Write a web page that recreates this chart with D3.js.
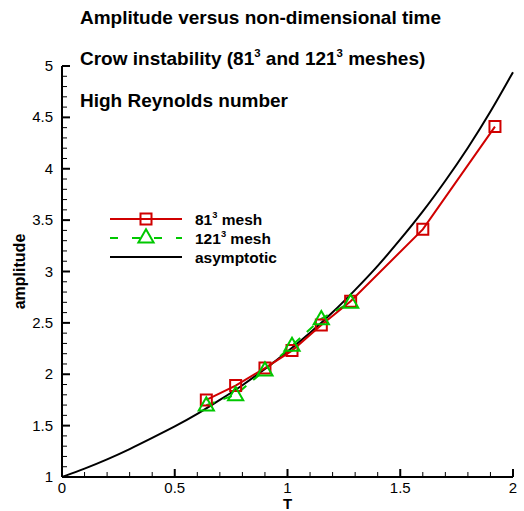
<!DOCTYPE html>
<html><head><meta charset="utf-8">
<script src="https://cdn.jsdelivr.net/npm/d3@7"></script>
<style>body{margin:0;background:#fff}svg{display:block}text{font-family:"Liberation Sans",Arial,sans-serif}</style>
</head><body>
<script>
const T = [0.64, 0.77, 0.90, 1.02, 1.15, 1.28, 1.60, 1.92];
const mesh81 = [1.75, 1.89, 2.06, 2.23, 2.48, 2.71, 3.41, 4.41];
const T121 = [0.64, 0.77, 0.90, 1.02, 1.15, 1.28];
const mesh121 = [1.70, 1.80, 2.04, 2.28, 2.54, 2.70];
const asymT = [0,0.1,0.2,0.3,0.4,0.5,0.6,0.7,0.8,0.9,1.0,1.1,1.2,1.3,1.4,1.5,1.6,1.7,1.8,1.9,2.0];
const asymA = [1.00,1.08,1.17,1.27,1.38,1.49,1.61,1.75,1.89,2.05,2.22,2.40,2.60,2.82,3.05,3.31,3.58,3.88,4.20,4.55,4.94];
const xTicks = [0, 0.5, 1, 1.5, 2];
const yTicks = [1, 1.5, 2, 2.5, 3, 3.5, 4, 4.5, 5];
const titles = ["Amplitude versus non-dimensional time", "Crow instability (81|3| and 121|3| meshes)", "High Reynolds number"];
const legendLabels = ["81|3| mesh", "121|3| mesh", "asymptotic"];

const W = 524, H = 511;
const svg = d3.select("body").append("svg").attr("width", W).attr("height", H);
const x = d3.scaleLinear().domain([0, 2]).range([62, 513]);
const y = d3.scaleLinear().domain([1, 5]).range([477, 66]);
const RED = "#d00000", GREEN = "#00c800";

function richText(sel, str, up) {
  str.split("|").forEach((p, i) => {
    if (i % 2 === 1) sel.append("tspan").attr("dy", -up).attr("font-size", "0.6em").text(p);
    else { const t = sel.append("tspan").text(p); if (i > 0) t.attr("dy", up); }
  });
}

// axes
const isMajor = (arr, d) => arr.some(t => Math.abs(t - d) < 1e-6);
const minorX = d3.range(0, 2.0001, 0.1);
const minorY = d3.range(1, 5.0001, 0.1);
const ax = svg.append("g");
ax.selectAll(".mx").data(minorX).join("line")
  .attr("x1", d => x(d)).attr("x2", d => x(d)).attr("y1", 477)
  .attr("y2", d => isMajor(xTicks, d) ? 469 : 472)
  .attr("stroke", "#000").attr("stroke-width", d => isMajor(xTicks, d) ? 2 : 1);
ax.selectAll(".my").data(minorY).join("line")
  .attr("y1", d => y(d)).attr("y2", d => y(d)).attr("x1", 62)
  .attr("x2", d => isMajor(yTicks, d) ? 70 : 67)
  .attr("stroke", "#000").attr("stroke-width", d => isMajor(yTicks, d) ? 2 : 1);
ax.append("line").attr("x1", 62).attr("x2", 513).attr("y1", 477).attr("y2", 477).attr("stroke", "#000").attr("stroke-width", 2);
ax.append("line").attr("x1", 62).attr("x2", 62).attr("y1", 66).attr("y2", 477).attr("stroke", "#000").attr("stroke-width", 2);
ax.selectAll(".xl").data(xTicks).join("text").attr("x", d => x(d)).attr("y", 493)
  .attr("text-anchor", "middle").attr("font-size", 15).text(d => d);
ax.selectAll(".yl").data(yTicks).join("text").attr("x", 53).attr("y", d => y(d) + 5)
  .attr("text-anchor", "end").attr("font-size", 15).text(d => d);
svg.append("text").attr("x", x(1)).attr("y", 509).attr("text-anchor", "middle")
  .attr("font-size", 15).attr("font-weight", "bold").text("T");
svg.append("text").attr("transform", `translate(25,${y(3)}) rotate(-90)`).attr("text-anchor", "middle")
  .attr("font-size", 16).attr("font-weight", "bold").text("amplitude");

// titles
const ty = [24, 65, 107];
titles.forEach((t, i) => {
  const el = svg.append("text").attr("x", 80).attr("y", ty[i]).attr("font-size", 19).attr("font-weight", "bold");
  richText(el, t, 8);
});

// asymptotic
svg.append("path")
  .attr("d", d3.line().curve(d3.curveBasis)(asymT.map((t, i) => [x(t), y(asymA[i])])))
  .attr("fill", "none").attr("stroke", "#000").attr("stroke-width", 2);

// 121 mesh
svg.append("path").attr("d", d3.line()(T121.map((t, i) => [x(t), y(mesh121[i])])))
  .attr("fill", "none").attr("stroke", GREEN).attr("stroke-width", 2).attr("stroke-dasharray", "9,9");
// 81 mesh
svg.append("path").attr("d", d3.line()(T.map((t, i) => [x(t), y(mesh81[i])])))
  .attr("fill", "none").attr("stroke", RED).attr("stroke-width", 2);

const sq = d3.symbol().type(d3.symbolSquare).size(121);
const tri = d3.symbol().type(d3.symbolTriangle).size(100);
svg.selectAll(".sq").data(T).join("path").attr("d", sq)
  .attr("transform", (t, i) => `translate(${x(t)},${y(mesh81[i])})`)
  .attr("fill", "none").attr("stroke", RED).attr("stroke-width", 2);
svg.selectAll(".tr").data(T121).join("path").attr("d", tri)
  .attr("transform", (t, i) => `translate(${x(t)},${y(mesh121[i]) + 1})`)
  .attr("fill", "none").attr("stroke", GREEN).attr("stroke-width", 2);

// legend
const lg = svg.append("g");
const ly = [219, 238, 257];
lg.append("line").attr("x1", 110).attr("x2", 182).attr("y1", ly[0]).attr("y2", ly[0]).attr("stroke", RED).attr("stroke-width", 2);
lg.append("path").attr("d", sq).attr("transform", `translate(146,${ly[0]})`).attr("fill", "none").attr("stroke", RED).attr("stroke-width", 2);
lg.append("line").attr("x1", 110).attr("x2", 182).attr("y1", ly[1]).attr("y2", ly[1]).attr("stroke", GREEN).attr("stroke-width", 2).attr("stroke-dasharray", "8,14");
lg.append("path").attr("d", tri).attr("transform", `translate(146,${ly[1]})`).attr("fill", "#fff").attr("stroke", GREEN).attr("stroke-width", 2);
lg.append("line").attr("x1", 110).attr("x2", 182).attr("y1", ly[2]).attr("y2", ly[2]).attr("stroke", "#000").attr("stroke-width", 2);
legendLabels.forEach((l, i) => {
  const el = lg.append("text").attr("x", 195).attr("y", ly[i] + 6).attr("font-size", 15.5).attr("font-weight", "bold");
  richText(el, l, 7);
});
</script>
</body></html>
